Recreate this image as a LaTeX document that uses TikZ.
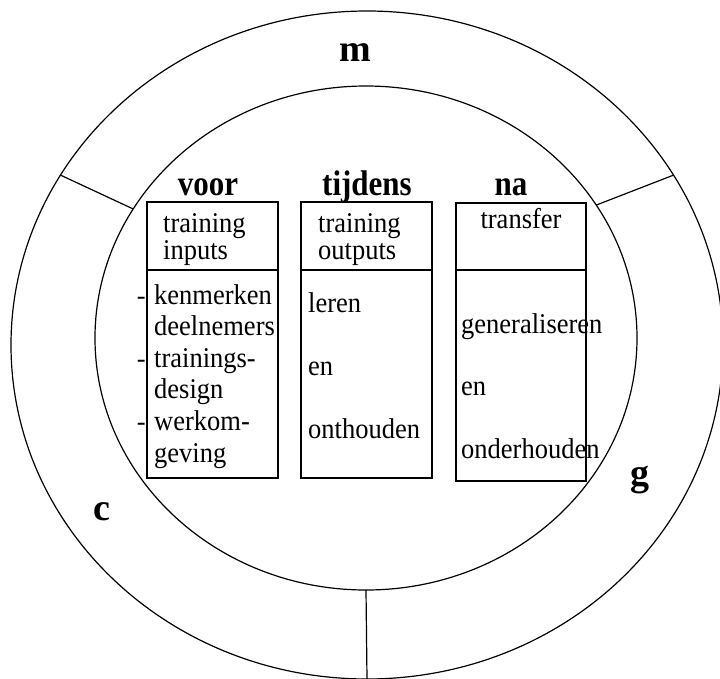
\documentclass[tikz,border=0pt]{standalone}
\usepackage{graphicx}
\usepackage{fontspec}
\setmainfont{Liberation Serif}
\usetikzlibrary{shapes.geometric}
% taller-set lettering for headings and box text
\newcommand\headtxt[1]{\scalebox{1}[1.15]{#1}}
\newcommand\bodytxt[1]{\scalebox{1}[1.08]{#1}}
\begin{document}
\begin{tikzpicture}[x=1pt,y=-1pt,
  ring/.style={draw, ellipse, inner sep=0pt, outer sep=0pt, line width=1.2pt},
  part/.style={draw, rectangle, inner sep=0pt, outer sep=0pt, line width=1.2pt, anchor=north west},
  divider/.style={line width=1.2pt},
  body/.style={font=\fontsize{26.5}{30}\selectfont, inner sep=0pt, anchor=base west},
  itemmark/.style={font=\fontsize{26.5}{30}\selectfont, inner sep=0pt, anchor=base east},
  head/.style={font=\fontsize{31}{34}\selectfont\bfseries, inner sep=0pt, anchor=base},
  zone/.style={font=\fontsize{38}{40}\selectfont\bfseries, inner sep=0pt, anchor=base}]
\useasboundingbox (0,0) rectangle (720,678);

% the two rings
\node[ring, minimum width=712pt, minimum height=668pt] (outer) at (367,345) {};
\node[ring, minimum width=542pt, minimum height=504pt] (inner) at (366,338) {};

% spokes between the rings
\draw[divider] (inner.151.8) -- (outer.151.5);
\draw[divider] (inner.30.8) -- (outer.29);
\draw[divider] (inner.south) -- (outer.south);

% sector letters
\node[zone] (m) at (355,61) {m};
\node[zone] (c) at (102,520) {c};
\node[zone] (g) at (640,485) {g};

% phase headings
\node[head] (voor) at (208,195) {\headtxt{voor}};
\node[head] (tijdens) at (367,195) {\headtxt{tijdens}};
\node[head] (na) at (511,195) {\headtxt{na}};

% box: voor
\node[part, minimum width=131pt, minimum height=68pt] (b1top) at (147,202) {};
\node[part, minimum width=131pt, minimum height=208pt] (b1body) at (147,270) {};
\node[body] (b1h1) at (163,232) {\bodytxt{training}};
\node[body] (b1h2) at (163,259) {\bodytxt{inputs}};
\node[body] (b1l1) at (154,304) {\bodytxt{kenmerken}};
\node[body] (b1l2) at (154,335.6) {\bodytxt{deelnemers}};
\node[body] (b1l3) at (154,367.2) {\bodytxt{trainings-}};
\node[body] (b1l4) at (154,398.8) {\bodytxt{design}};
\node[body] (b1l5) at (154,430.4) {\bodytxt{werkom-}};
\node[body] (b1l6) at (154,462) {\bodytxt{geving}};
\node[itemmark] (d1) at (146,304) {-};
\node[itemmark] (d2) at (146,367.2) {-};
\node[itemmark] (d3) at (146,430.4) {-};

% box: tijdens
\node[part, minimum width=131pt, minimum height=68pt] (b2top) at (301,202) {};
\node[part, minimum width=131pt, minimum height=208pt] (b2body) at (301,270) {};
\node[body] (b2h1) at (318,232) {\bodytxt{training}};
\node[body] (b2h2) at (318,259) {\bodytxt{outputs}};
\node[body] (b2l1) at (308,312) {\bodytxt{leren}};
\node[body] (b2l2) at (308,375) {\bodytxt{en}};
\node[body] (b2l3) at (308,438) {\bodytxt{onthouden}};

% box: na
\node[part, minimum width=130pt, minimum height=67pt] (b3top) at (456,203) {};
\node[part, minimum width=130pt, minimum height=211pt] (b3body) at (456,270) {};
\node[body, anchor=base] (b3h1) at (521,228) {\bodytxt{transfer}};
\node[body] (b3l1) at (461,333) {\bodytxt{generaliseren}};
\node[body] (b3l2) at (461,395) {\bodytxt{en}};
\node[body] (b3l3) at (461,458) {\bodytxt{onderhouden}};
\end{tikzpicture}
\end{document}
